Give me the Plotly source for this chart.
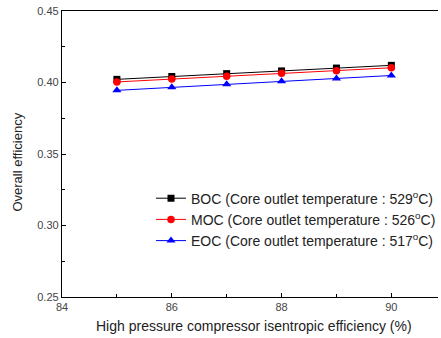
import plotly.graph_objects as go

efficiency = [85, 86, 87, 88, 89, 90]
boc = [0.4022, 0.4042, 0.4062, 0.4081, 0.4101, 0.4120]
moc = [0.4004, 0.4024, 0.4044, 0.4064, 0.4083, 0.4103]
eoc = [0.3945, 0.3966, 0.3987, 0.4008, 0.4028, 0.4049]
names = ["BOC (Core outlet temperature : 529<sup>o</sup>C)",
         "MOC (Core outlet temperature : 526<sup>o</sup>C)",
         "EOC (Core outlet temperature : 517<sup>o</sup>C)"]
x_title = "High pressure compressor isentropic efficiency (%)"
y_title = "Overall efficiency"

fig = go.Figure()
styles = [("black", "square", 7), ("red", "circle", 7.5), ("blue", "triangle-up", 8)]
for ys, name, (col, sym, sz) in zip([boc, moc, eoc], names, styles):
    fig.add_trace(go.Scatter(x=efficiency, y=ys, name=name, mode="lines+markers",
                             line=dict(color=col, width=1),
                             marker=dict(color=col, symbol=sym, size=sz)))

font = "Liberation Sans, Arial, sans-serif"
fig.update_layout(
    width=441, height=338,
    margin=dict(l=62, r=0, t=11, b=41),
    plot_bgcolor="white", paper_bgcolor="white",
    font=dict(family=font, size=11, color="#333"),
    showlegend=True,
    legend=dict(x=0.237, y=0.40, xanchor="left", yanchor="top",
                bgcolor="rgba(0,0,0,0)", font=dict(size=14, color="#222"),
                tracegroupgap=0, itemwidth=30),
    xaxis=dict(range=[84, 90.85], tickvals=[84, 86, 88, 90], showgrid=False, zeroline=False,
               automargin=False,
               showline=True, linecolor="black", linewidth=1.3, mirror=True,
               ticks="inside", ticklen=4, tickcolor="black",
               minor=dict(tickvals=[85, 87, 89], ticks="inside", ticklen=3, tickcolor="black"),
               tickfont=dict(size=11, color="#444")),
    yaxis=dict(range=[0.25, 0.45], tickvals=[0.25, 0.30, 0.35, 0.40, 0.45], tickformat=".2f",
               showgrid=False, zeroline=False, automargin=False,
               showline=True, linecolor="black", linewidth=1.3, mirror=False,
               ticks="inside", ticklen=4, tickcolor="black",
               minor=dict(tickvals=[0.275, 0.325, 0.375, 0.425], ticks="inside", ticklen=3, tickcolor="black"),
               tickfont=dict(size=11, color="#444")),
    annotations=[
        dict(text=x_title, xref="paper", yref="paper", x=0.51, y=-0.101, xanchor="center", yanchor="middle",
             showarrow=False, font=dict(size=14, color="#222")),
        dict(text=y_title, xref="paper", yref="paper", x=-0.117, y=0.47, xanchor="center", yanchor="middle",
             textangle=-90, showarrow=False, font=dict(size=13, color="#222")),
    ],
)
fig.write_html("out.html", config={"displayModeBar": False},
               post_script="document.body.style.margin='0';document.body.style.overflow='hidden';")
